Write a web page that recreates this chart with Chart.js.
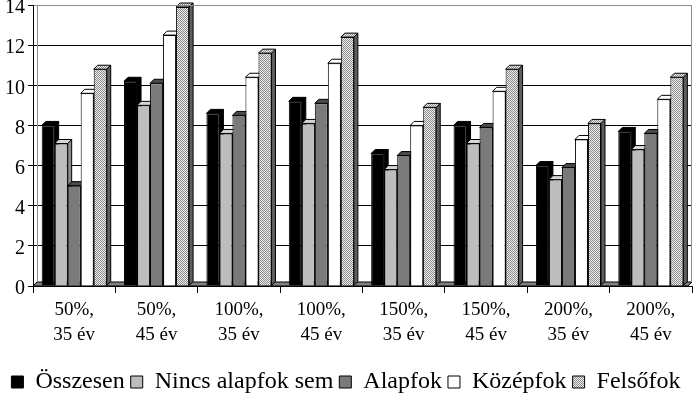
<!DOCTYPE html>
<html>
<head>
<meta charset="utf-8">
<script src="https://cdn.jsdelivr.net/npm/chart.js@4.4.0/dist/chart.umd.min.js"></script>
<style>
html, body { margin: 0; padding: 0; background: #fff; }
#wrap { width: 697px; height: 404px; }
</style>
</head>
<body>
<div id="wrap"><canvas id="myChart"></canvas></div>
<script>
const kategoriak = [['50%,', '35 év'], ['50%,', '45 év'], ['100%,', '35 év'], ['100%,', '45 év'],
                    ['150%,', '35 év'], ['150%,', '45 év'], ['200%,', '35 év'], ['200%,', '45 év']];
const osszesen     = [8.0, 10.2, 8.6, 9.2, 6.6, 8.0, 6.0, 7.7];
const nincsAlapfok = [7.1, 9.0, 7.6, 8.1, 5.8, 7.1, 5.3, 6.8];
const alapfok      = [5.0, 10.1, 8.5, 9.1, 6.5, 7.9, 5.9, 7.6];
const kozepfok     = [9.6, 12.5, 10.4, 11.1, 8.0, 9.7, 7.3, 9.3];
const felsofok     = [10.8, 13.9, 11.6, 12.4, 8.9, 10.8, 8.1, 10.4];
const yMax = 14;
const yLepes = 2;

const betu = 'Liberation Serif';
const mely = 4;

Chart.defaults.font.family = betu;
Chart.defaults.color = '#000';

// pontozott minta a Felsőfok oszlopokhoz
function pottyos() {
    const c = document.createElement('canvas');
    c.width = 2; c.height = 2;
    const g = c.getContext('2d');
    g.fillStyle = '#efefef'; g.fillRect(0, 0, 2, 2);
    g.fillStyle = '#8a8a8a'; g.fillRect(0, 0, 1, 1); g.fillRect(1, 1, 1, 1);
    return g.createPattern(c, 'repeat');
}
const minta = pottyos();

// ál-3D: padló, oszlopok teteje és oldala
const harmadikDim = {
    id: 'harmadikDim',
    beforeDatasetsDraw(chart) {
        const ctx = chart.ctx;
        const a = chart.chartArea;
        ctx.save();
        ctx.fillStyle = '#808080';
        ctx.strokeStyle = '#000';
        ctx.lineWidth = 1;
        ctx.beginPath();
        ctx.moveTo(a.left, a.bottom);
        ctx.lineTo(a.left + mely, a.bottom - mely);
        ctx.lineTo(a.right, a.bottom - mely);
        ctx.lineTo(a.right - mely, a.bottom);
        ctx.closePath();
        ctx.fill();
        ctx.stroke();
        chart.data.datasets.forEach((ds, i) => {
            chart.getDatasetMeta(i).data.forEach(bar => {
                const p = bar.getProps(['x', 'y', 'base', 'width'], true);
                const l = p.x - p.width / 2, r = p.x + p.width / 2;
                ctx.fillStyle = ds.oldalSzin;
                ctx.beginPath();
                ctx.moveTo(r, p.y); ctx.lineTo(r + mely, p.y - mely);
                ctx.lineTo(r + mely, p.base - mely); ctx.lineTo(r, p.base);
                ctx.closePath(); ctx.fill(); ctx.stroke();
                ctx.fillStyle = ds.tetoSzin;
                ctx.beginPath();
                ctx.moveTo(l, p.y); ctx.lineTo(l + mely, p.y - mely);
                ctx.lineTo(r + mely, p.y - mely); ctx.lineTo(r, p.y);
                ctx.closePath(); ctx.fill(); ctx.stroke();
            });
        });
        ctx.restore();
    },
    afterDraw(chart) {
        const ctx = chart.ctx;
        const a = chart.chartArea;
        ctx.save();
        ctx.strokeStyle = '#8c8c8c';
        ctx.lineWidth = 1;
        ctx.beginPath();
        ctx.moveTo(a.left + mely, a.top + 0.5);
        ctx.lineTo(a.right - 0.5, a.top + 0.5);
        ctx.lineTo(a.right - 0.5, a.bottom - mely);
        ctx.moveTo(a.left + mely + 0.5, a.top);
        ctx.lineTo(a.left + mely + 0.5, a.bottom - mely);
        ctx.stroke();
        ctx.restore();
    }
};

function sorozat(nev, ertekek, szin, teto, oldal) {
    return {
        label: nev,
        data: ertekek,
        backgroundColor: szin,
        borderColor: '#000',
        borderWidth: 1,
        tetoSzin: teto,
        oldalSzin: oldal,
        categoryPercentage: 0.79,
        barPercentage: 1.0
    };
}

new Chart('myChart', {
    type: 'bar',
    data: {
        labels: kategoriak,
        datasets: [
            sorozat('Összesen', osszesen, '#000000', '#000000', '#000000'),
            sorozat('Nincs alapfok sem', nincsAlapfok, '#bdbdbd', '#d6d6d6', '#8c8c8c'),
            sorozat('Alapfok', alapfok, '#7a7a7a', '#4a4a4a', '#555555'),
            sorozat('Középfok', kozepfok, '#ffffff', '#ffffff', '#e6e6e6'),
            sorozat('Felsőfok', felsofok, minta, minta, '#5e5e5e')
        ]
    },
    plugins: [harmadikDim],
    options: {
        responsive: true,
        maintainAspectRatio: false,
        animation: false,
        layout: { padding: { left: 0, right: 5, top: 5, bottom: 0 } },
        plugins: {
            tooltip: { enabled: false },
            legend: {
                position: 'bottom',
                labels: {
                    font: { family: betu, size: 24 },
                    color: '#000',
                    boxWidth: 12,
                    boxHeight: 12,
                    padding: 6
                }
            }
        },
        scales: {
            x: {
                grid: { drawOnChartArea: false, color: '#000', tickLength: 7 },
                border: { color: '#000' },
                ticks: {
                    font: { family: betu, size: 19, lineHeight: 1.3 },
                    color: '#000',
                    maxRotation: 0,
                    autoSkip: false,
                    padding: 5
                },
                afterFit: s => { s.height = 78; }
            },
            y: {
                min: 0,
                max: yMax,
                ticks: {
                    stepSize: yLepes,
                    font: { family: betu, size: 20 },
                    color: '#000',
                    padding: 3,
                    labelOffset: 3
                },
                grid: {
                    color: c => (c.tick && c.tick.value === yMax) ? '#8c8c8c' : '#000',
                    tickColor: '#000',
                    tickLength: 5
                },
                border: { color: '#000' },
                afterFit: s => { s.width = 33; s.paddingTop = 0; }
            }
        }
    }
});
</script>
</body>
</html>
